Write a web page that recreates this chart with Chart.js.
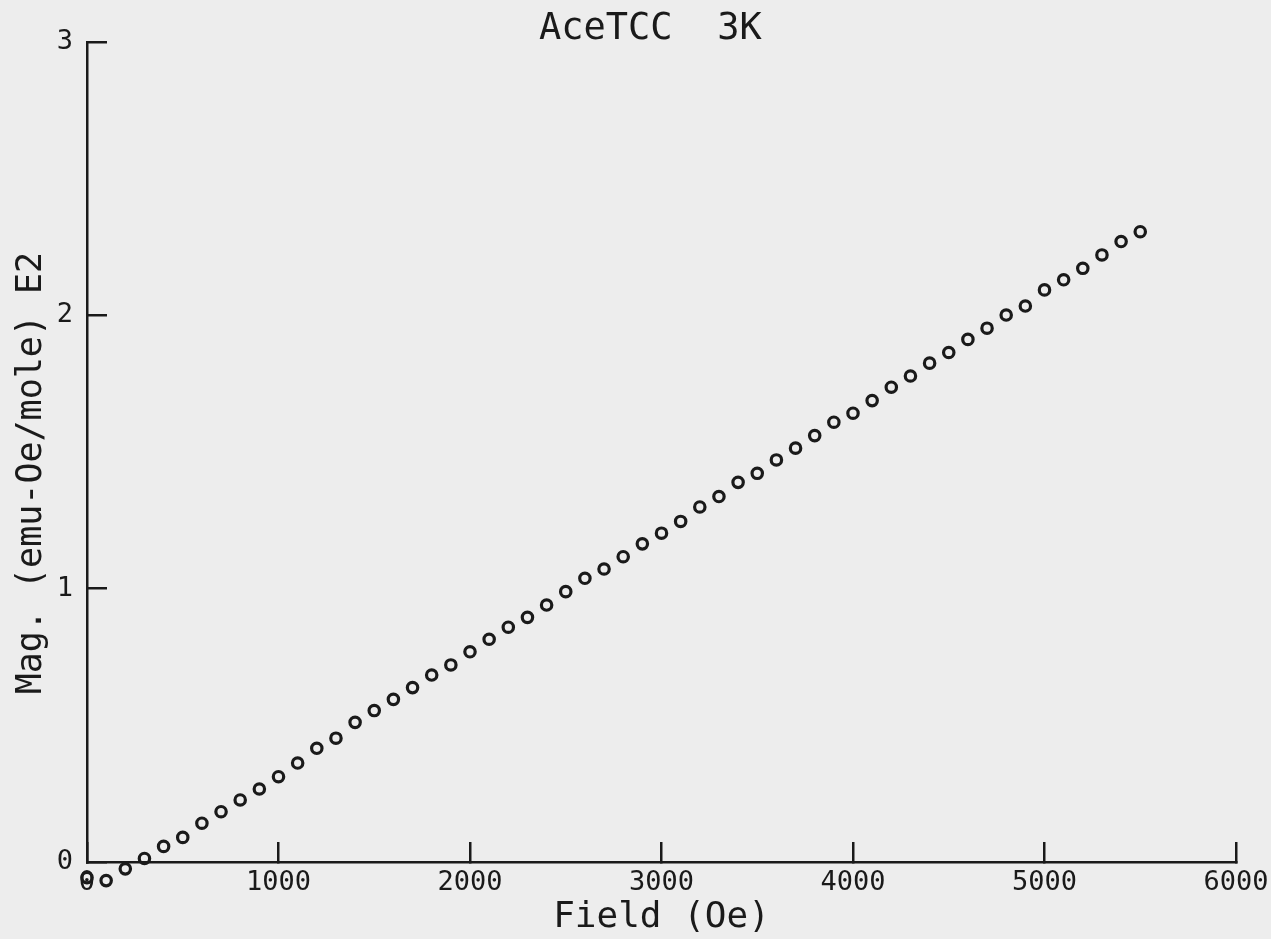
<!DOCTYPE html>
<html>
<head>
<meta charset="utf-8">
<title>AceTCC 3K</title>
<script src="https://cdn.jsdelivr.net/npm/chart.js@4"></script>
<style>
    body { margin: 0; background: #ededed; }
    canvas { display: block; }
</style>
</head>
<body>
<canvas id="chart_mag" width="1271" height="939"></canvas>
<script>
// field in Oe, one reading every 100 Oe
var fieldOe = [
    0, 100, 200, 300, 400, 500, 600, 700, 800, 900,
    1000, 1100, 1200, 1300, 1400, 1500, 1600, 1700, 1800, 1900,
    2000, 2100, 2200, 2300, 2400, 2500, 2600, 2700, 2800, 2900,
    3000, 3100, 3200, 3300, 3400, 3500, 3600, 3700, 3800, 3900,
    4000, 4100, 4200, 4300, 4400, 4500, 4600, 4700, 4800, 4900,
    5000, 5100, 5200, 5300, 5400, 5500
];
// magnetisation, (emu-Oe/mole) x 1E2
var magE2 = [
    -0.057, -0.068, -0.025, 0.013, 0.057, 0.090, 0.142, 0.184, 0.227, 0.267,
    0.312, 0.362, 0.416, 0.453, 0.511, 0.554, 0.595, 0.638, 0.684, 0.721,
    0.769, 0.815, 0.859, 0.895, 0.940, 0.989, 1.038, 1.072, 1.117, 1.164,
    1.203, 1.246, 1.299, 1.337, 1.389, 1.422, 1.471, 1.514, 1.560, 1.609,
    1.642, 1.688, 1.737, 1.778, 1.825, 1.864, 1.912, 1.953, 2.001, 2.034,
    2.093, 2.130, 2.172, 2.221, 2.270, 2.306
];
var xTicks = [0, 1000, 2000, 3000, 4000, 5000, 6000];
var yTicks = [0, 1, 2, 3];

var ink = "#1a1a1a";
var mono = "'DejaVu Sans Mono', 'Liberation Mono', monospace";

var points = fieldOe.map(function (f, i) {
    return { x: f, y: magE2[i] };
});

// points below the axis (negative readings) sit outside the chart area;
// widen the area while the dataset is drawn so they are not dropped
var looseArea = {
    id: "looseArea",
    beforeDatasetsDraw: function (chart) {
        var a = chart.chartArea;
        this._saved = a;
        chart.chartArea = {
            left: a.left - 40, top: a.top - 40,
            right: a.right + 40, bottom: a.bottom + 40,
            width: a.width + 80, height: a.height + 80,
        };
    },
    afterDatasetsDraw: function (chart) {
        if (this._saved) chart.chartArea = this._saved;
    },
};

var ctx = document.getElementById("chart_mag").getContext("2d");
var myChart = new Chart(ctx, {
    type: "scatter",
    data: {
        datasets: [
            {
                data: points,
                pointStyle: "circle",
                pointRadius: 5.2,
                pointHoverRadius: 5.2,
                borderWidth: 3.2,
                borderColor: ink,
                backgroundColor: "rgba(0,0,0,0)",
                clip: false,
            },
        ],
    },
    options: {
        responsive: false,
        animation: false,
        devicePixelRatio: 1,
        layout: {
            padding: 0,
        },
        plugins: {
            legend: { display: false },
            tooltip: { enabled: false },
            title: {
                display: true,
                text: "AceTCC  3K ",
                color: ink,
                fullSize: false,
                font: { family: mono, size: 37, weight: "normal", lineHeight: 0.6 },
                padding: { top: 18, bottom: 1.8 },
            },
        },
        scales: {
            x: {
                type: "linear",
                min: 0,
                max: 6000,
                afterBuildTicks: function (scale) {
                    scale.ticks = xTicks.map(function (v) { return { value: v }; });
                },
                afterFit: function (scale) {
                    scale.height = 77;
                    scale.paddingLeft = 0;
                    scale.paddingRight = 35;
                },
                border: { display: true, color: ink, width: 2.5 },
                grid: {
                    display: true,
                    drawOnChartArea: false,
                    drawTicks: true,
                    tickLength: -20,
                    color: ink,
                    lineWidth: 2.5,
                },
                ticks: {
                    color: ink,
                    padding: 25,
                    maxRotation: 0,
                    font: { family: mono, size: 27 },
                    callback: function (value) {
                        return String(value);
                    },
                },
                title: {
                    display: true,
                    text: "Field (Oe)",
                    color: ink,
                    font: { family: mono, size: 36, lineHeight: 1.0 },
                    padding: { top: 0, bottom: 3 },
                },
            },
            y: {
                type: "linear",
                min: 0,
                max: 3,
                afterBuildTicks: function (scale) {
                    scale.ticks = yTicks.map(function (v) { return { value: v }; });
                },
                afterFit: function (scale) {
                    scale.width = 87;
                    scale.paddingTop = 0;
                    scale.paddingBottom = 0;
                },
                border: { display: true, color: ink, width: 2.5 },
                grid: {
                    display: true,
                    drawOnChartArea: false,
                    drawTicks: true,
                    tickLength: -20,
                    color: ink,
                    lineWidth: 2.5,
                },
                ticks: {
                    color: ink,
                    padding: 34,
                    font: { family: mono, size: 27 },
                    callback: function (value) {
                        return String(value);
                    },
                },
                title: {
                    display: true,
                    text: "Mag. (emu-Oe/mole) E2  ",
                    color: ink,
                    font: { family: mono, size: 35, lineHeight: 1.0 },
                    padding: { top: 14, bottom: 0 },
                },
            },
        },
    },
    plugins: [looseArea],
});
</script>
</body>
</html>
